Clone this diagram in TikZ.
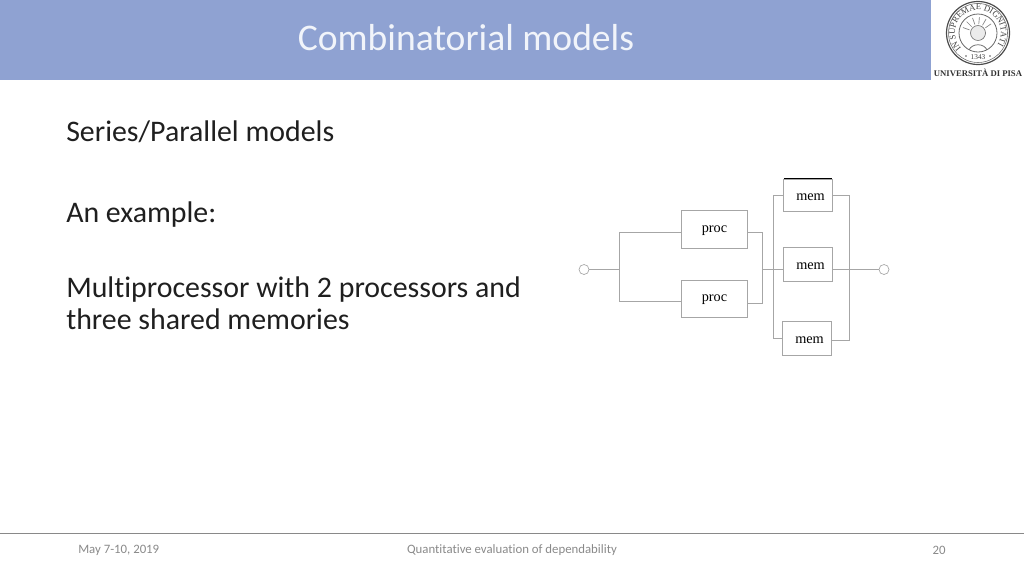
\documentclass[tikz,border=0pt]{standalone}
\usepackage{fontspec}
\setmainfont[Ligatures=NoCommon]{Carlito}
\newfontfamily\logofont{Liberation Serif}
\usetikzlibrary{decorations.text}
\definecolor{headblue}{HTML}{8FA2D2}
\definecolor{wiregray}{HTML}{A6A6A6}
\definecolor{footgray}{HTML}{898989}
\tikzset{
  blockbox/.style={draw=wiregray, fill=white, line width=0.6pt, minimum width=#1, minimum height=25pt, inner sep=0pt, font=\logofont\fontsize{10.7}{12}\selectfont, text=black},
  procbox/.style={blockbox=49pt, text height=6.1pt, text depth=1.8pt},
  membox/.style={blockbox=37pt, text height=8pt, text depth=0pt},
  wire/.style={draw=wiregray, line width=0.6pt},
  terminal/.style={circle, draw=wiregray, fill=white, line width=0.5pt, minimum size=7.5pt, inner sep=0pt},
  bodytext/.style={anchor=west, font=\fontsize{22.4}{24.2}\selectfont, text=black!88, align=left, inner sep=0pt},
  foottext/.style={font=\fontsize{9.6}{11}\selectfont, text=footgray, inner sep=0pt},
}
\begin{document}
\begin{tikzpicture}[x=0.75pt, y=-0.75pt]
\useasboundingbox (0,0) rectangle (1024,576);
% Header band and title
\fill[headblue] (0,0) rectangle (931,80);
\node[font=\fontsize{28.2}{32}\selectfont, text=white!88!headblue] (title) at (466,38) {Combinatorial models};

% Seal
\draw[black!70, line width=0.9pt] (978,33) circle (31.5);
\draw[black!60, line width=0.4pt] (978,33) circle (29.5);
\draw[black!60, line width=0.6pt] (978,33) circle (19);
\path[decorate, decoration={text along path, text align=center, text={|\logofont\fontsize{6.4}{7}\selectfont\color{black!75}|IN SUPREMAE DIGNITATIS}}]
  (958.1,44.5) arc (150:390:23);
\node[font=\logofont\fontsize{5.5}{6}\selectfont, text=black!75, inner sep=0pt] (year) at (978,57) {1343};
\fill[black!65] (966,56) circle (0.9);
\fill[black!65] (990,56) circle (0.9);
\draw[black!55, fill=black!8, line width=0.5pt] (978,33) circle (7.5);
\foreach \ang in {200,225,...,340}
  \draw[black!50, line width=0.5pt] (978,33) ++(\ang:9) -- ++(\ang:7);
\draw[black!55, line width=0.6pt] (969,50) .. controls (972,43) and (984,43) .. (987,50);
\node[font=\logofont\bfseries\fontsize{6.5}{7}\selectfont, text=black!80, inner sep=0pt] (pisa) at (978,73) {UNIVERSITÀ DI PISA};

% Slide text
\node[bodytext] (heading) at (66,132) {Series/Parallel models};
\node[bodytext] (intro) at (66,215) {An example:};
\node[bodytext] (multi) at (66,303.5) {Multiprocessor with 2 processors and\\three shared memories};

% Blocks
\node[procbox, minimum height=28pt] (proc1) at (714.5,229.5) {proc};
\node[procbox, minimum height=27.5pt] (proc2) at (714.5,299) {proc};
\node[membox, minimum height=24pt] (mem1) at (808,195) {\hspace*{3.8pt}mem};
\node[membox] (mem2) at (808,264.5) {\hspace*{3.8pt}mem};
\node[membox] (mem3) at (807,338.5) {\hspace*{3.8pt}mem};
\node[terminal] (in) at (584,269.5) {};
\node[terminal] (out) at (884,269.5) {};

% Junctions on the vertical bars
\coordinate (jin) at (619.5,269.5);
\coordinate (jproc) at (762,269.5);
\coordinate (jmemin) at (773.7,269.5);
\coordinate (jmemout) at (849,269.5);

% Wires
\draw[wire] (in) -- (jin);
\draw[wire] (jin) |- (proc1.west |- 0,232);
\draw[wire] (jin) |- (proc2.west |- 0,301);
\draw[wire] (proc1.east |- 0,232.5) -| (jproc);
\draw[wire] (proc2.east |- 0,303) -| (jproc);
\draw[wire] (jproc) -- (mem2.west |- jproc);
\draw[wire] (jmemin) |- (mem1);
\draw[wire] (jmemin) |- (mem3);
\draw[wire] (mem1) -| (jmemout);
\draw[wire] (mem3.east |- 0,340) -| (jmemout);
\draw[wire] (mem2.east |- jmemout) -- (out);
\draw[black, line width=0.6pt] (mem1.north west) ++(1,0) -- ([xshift=-1pt]mem1.north east);

% Footer
\draw[footgray, line width=0.6pt] (0,533.5) -- (1024,533.5);
\node[foottext, anchor=west] (date) at (78,550) {May 7-10, 2019};
\node[foottext] (course) at (512,550) {Quantitative evaluation of dependability};
\node[foottext] (page) at (939,550) {20};
\end{tikzpicture}
\end{document}
